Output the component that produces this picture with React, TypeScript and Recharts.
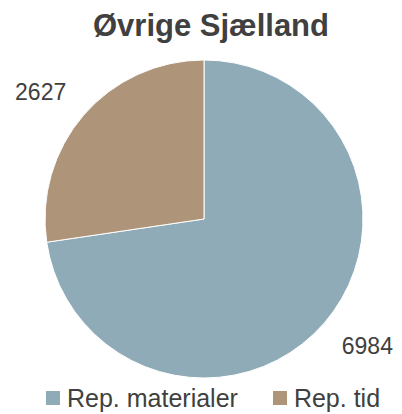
import { PieChart, Pie, Cell, Legend } from "recharts";

const categories = ["Rep. materialer", "Rep. tid"];
const values = [6984, 2627];
const colors = ["#8eabb7", "#ae9479"];

const data = categories.map((name, i) => ({ name, value: values[i] }));

const FONT = "'Liberation Sans', Arial, sans-serif";
const TEXT = "#404040";

const RADIAN = Math.PI / 180;
const LABEL_SIZE = 23;

// Excel-style outside-end labels: nearest corner of the text box sits on the mid-angle ray
function renderLabel(props: any) {
  const { cx, cy, midAngle, outerRadius, value } = props;
  const r = outerRadius + 23;
  const cos = Math.cos(-midAngle * RADIAN);
  const sin = Math.sin(-midAngle * RADIAN);
  const px = cx + r * cos;
  const py = cy + r * sin;
  const y = sin < 0 ? py : py + LABEL_SIZE * 0.716;
  return (
    <text
      x={px}
      y={y}
      textAnchor={cos < 0 ? "end" : "start"}
      fill={TEXT}
      fontSize={LABEL_SIZE}
      fontFamily={FONT}
    >
      {value}
    </text>
  );
}

function LegendContent() {
  return (
    <div
      style={{
        display: "flex",
        justifyContent: "flex-start",
        paddingLeft: 46,
        fontFamily: FONT,
        fontSize: 25,
        lineHeight: "28px",
        color: TEXT,
      }}
    >
      {categories.map((c, i) => (
        <div key={c} style={{ display: "flex", alignItems: "center", marginLeft: i === 0 ? 0 : 35 }}>
          <span style={{ display: "inline-block", width: 14, height: 14, background: colors[i], marginRight: 7 }} />
          <span>{c}</span>
        </div>
      ))}
    </div>
  );
}

export default function App() {
  return (
    <div style={{ position: "fixed", left: 0, top: 0, width: 402, height: 414, background: "#fff" }}>
      <div
        style={{
          position: "absolute",
          top: 8,
          left: 10,
          width: 402,
          textAlign: "center",
          fontFamily: FONT,
          fontWeight: "bold",
          fontSize: 31,
          color: TEXT,
          lineHeight: "36px",
        }}
      >
        Øvrige Sjælland
      </div>
      <PieChart width={402} height={414} margin={{ top: 0, right: 0, bottom: 0, left: 0 }}>
        <Pie
          data={data}
          dataKey="value"
          nameKey="name"
          cx={204}
          cy={219}
          outerRadius={159}
          startAngle={90}
          endAngle={-270}
          stroke="#ffffff"
          strokeWidth={1}
          label={renderLabel}
          labelLine={false}
          isAnimationActive={false}
        >
          {data.map((d, i) => (
            <Cell key={d.name} fill={colors[i]} />
          ))}
        </Pie>
        <Legend content={<LegendContent />} wrapperStyle={{ top: 384, left: 0, width: 402 }} />
      </PieChart>
    </div>
  );
}
